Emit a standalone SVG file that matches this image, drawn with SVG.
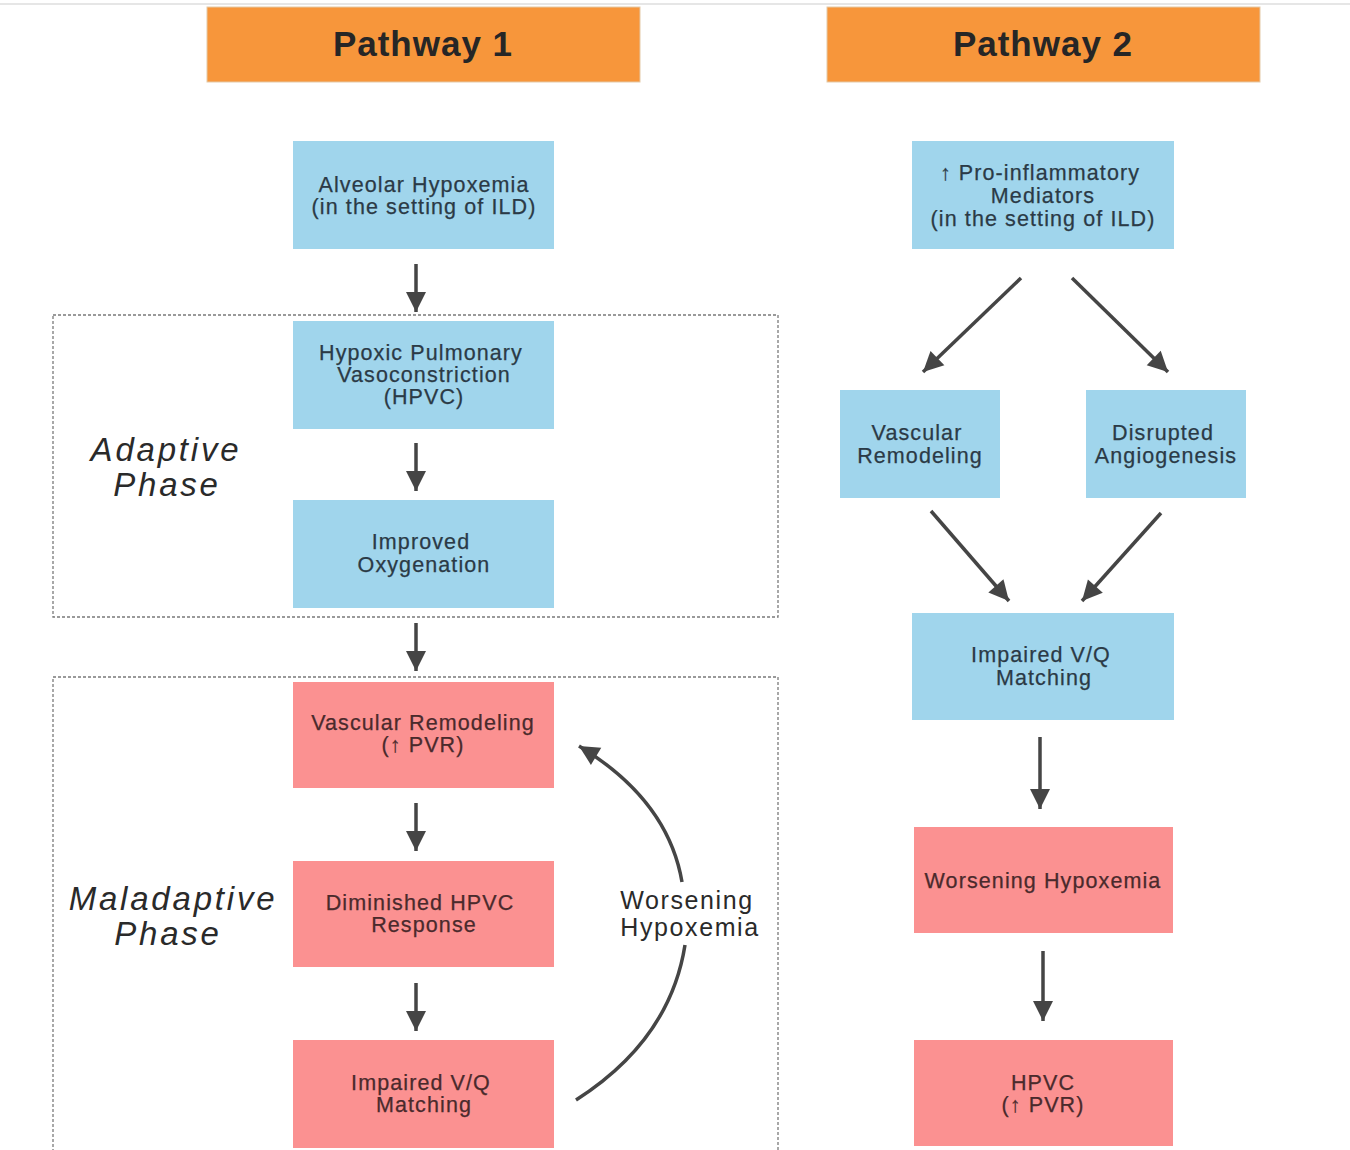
<svg xmlns="http://www.w3.org/2000/svg" width="1350" height="1150" viewBox="0 0 1350 1150">
<defs>
<marker id="ah" markerUnits="userSpaceOnUse" markerWidth="24" markerHeight="24" viewBox="0 0 24 24" refX="22" refY="12" orient="auto">
<path d="M2,2 L22,12 L2,22 Z" fill="#454545"/>
</marker>
</defs>
<style>
.hdr{fill:#F7963B;stroke:#e3c9a8;stroke-width:1}
.ht{font-family:"Liberation Sans",Arial,sans-serif;font-weight:bold;font-size:35px;fill:#262626;text-anchor:middle;letter-spacing:1px}
.blue{fill:#A0D5EC}
.pink{fill:#FB9191}
.t{font-family:"Liberation Sans",Arial,sans-serif;font-size:21.5px;fill:#2b3a46;stroke:#2b3a46;stroke-width:0.25;text-anchor:middle;letter-spacing:1.1px}
.tp{fill:#4a2a2c;stroke:#4a2a2c}
.ph{font-family:"Liberation Sans",Arial,sans-serif;font-style:italic;font-size:33px;fill:#2a2a2a;text-anchor:middle;letter-spacing:2.8px}
.wh{font-family:"Liberation Sans",Arial,sans-serif;font-size:25px;fill:#2a2a2a;text-anchor:middle;letter-spacing:1.6px}
.dash{fill:none;stroke:#7a7a7a;stroke-width:1.3;stroke-dasharray:3 2}
.c{fill:none;stroke:#454545;stroke-width:3.5}
</style>
<line x1="0" y1="4" x2="1350" y2="4" stroke="#e6e6e6" stroke-width="2"/>
<rect class="dash" x="53" y="315" width="725" height="302"/>
<rect class="dash" x="53" y="677" width="725" height="480"/>
<g id="header1"><rect class="hdr" x="207" y="7" width="433" height="75"/><text class="ht" x="423" y="56">Pathway 1</text></g>
<g id="header2"><rect class="hdr" x="827" y="7" width="433" height="75"/><text class="ht" x="1043" y="56">Pathway 2</text></g>
<g id="adaptive-label"><text class="ph" x="166" y="461">Adaptive</text><text class="ph" x="167" y="496">Phase</text></g>
<g id="maladaptive-label"><text class="ph" x="173" y="910">Maladaptive</text><text class="ph" x="168" y="945">Phase</text></g>
<g id="n-alveolar"><rect class="blue" x="293" y="141" width="261" height="108"/><text class="t" x="424" y="192">Alveolar Hypoxemia</text><text class="t" x="424" y="214">(in the setting of ILD)</text></g>
<g id="n-hpvc"><rect class="blue" x="293" y="321" width="261" height="108"/><text class="t" x="421" y="360">Hypoxic Pulmonary</text><text class="t" x="424" y="382">Vasoconstriction</text><text class="t" x="424" y="404">(HPVC)</text></g>
<g id="n-improved"><rect class="blue" x="293" y="500" width="261" height="108"/><text class="t" x="421" y="549">Improved</text><text class="t" x="424" y="572">Oxygenation</text></g>
<g id="n-vasc1"><rect class="pink" x="293" y="682" width="261" height="106"/><text class="t tp" x="423" y="730">Vascular Remodeling</text><text class="t tp" x="423" y="752">(↑ PVR)</text></g>
<g id="n-dimin"><rect class="pink" x="293" y="861" width="261" height="106"/><text class="t tp" x="420" y="910">Diminished HPVC</text><text class="t tp" x="424" y="932">Response</text></g>
<g id="n-vq1"><rect class="pink" x="293" y="1040" width="261" height="108"/><text class="t tp" x="421" y="1090">Impaired V/Q</text><text class="t tp" x="424" y="1112">Matching</text></g>
<g id="worsening-label"><text class="wh" x="687" y="909">Worsening</text><text class="wh" x="690" y="936">Hypoxemia</text></g>
<g id="n-proinf"><rect class="blue" x="912" y="141" width="262" height="108"/><text class="t" x="1040" y="180">↑ Pro-inflammatory</text><text class="t" x="1043" y="203">Mediators</text><text class="t" x="1043" y="226">(in the setting of ILD)</text></g>
<g id="n-vasc2"><rect class="blue" x="840" y="390" width="160" height="108"/><text class="t" x="917" y="440">Vascular</text><text class="t" x="920" y="463">Remodeling</text></g>
<g id="n-angio"><rect class="blue" x="1086" y="390" width="160" height="108"/><text class="t" x="1163" y="440">Disrupted</text><text class="t" x="1166" y="463">Angiogenesis</text></g>
<g id="n-vq2"><rect class="blue" x="912" y="613" width="262" height="107"/><text class="t" x="1041" y="662">Impaired V/Q</text><text class="t" x="1044" y="685">Matching</text></g>
<g id="n-worse"><rect class="pink" x="914" y="827" width="259" height="106"/><text class="t tp" x="1043" y="888">Worsening Hypoxemia</text></g>
<g id="n-hpvc2"><rect class="pink" x="914" y="1040" width="259" height="106"/><text class="t tp" x="1043" y="1090">HPVC</text><text class="t tp" x="1043" y="1112">(↑ PVR)</text></g>
<g id="connectors">
<line class="c" x1="416" y1="264" x2="416" y2="312" marker-end="url(#ah)"/>
<line class="c" x1="416" y1="443" x2="416" y2="491" marker-end="url(#ah)"/>
<line class="c" x1="416" y1="623" x2="416" y2="671" marker-end="url(#ah)"/>
<line class="c" x1="416" y1="803" x2="416" y2="851" marker-end="url(#ah)"/>
<line class="c" x1="416" y1="983" x2="416" y2="1031" marker-end="url(#ah)"/>
<path class="c" d="M576,1100 Q670,1040 685,945"/>
<path class="c" d="M682,882 Q668,800 579,746" marker-end="url(#ah)"/>
<line class="c" x1="1021" y1="278" x2="923" y2="372" marker-end="url(#ah)"/>
<line class="c" x1="1072" y1="278" x2="1168" y2="372" marker-end="url(#ah)"/>
<line class="c" x1="931" y1="511" x2="1009" y2="601" marker-end="url(#ah)"/>
<line class="c" x1="1161" y1="513" x2="1082" y2="601" marker-end="url(#ah)"/>
<line class="c" x1="1040" y1="737" x2="1040" y2="809" marker-end="url(#ah)"/>
<line class="c" x1="1043" y1="951" x2="1043" y2="1021" marker-end="url(#ah)"/>
</g>
</svg>
